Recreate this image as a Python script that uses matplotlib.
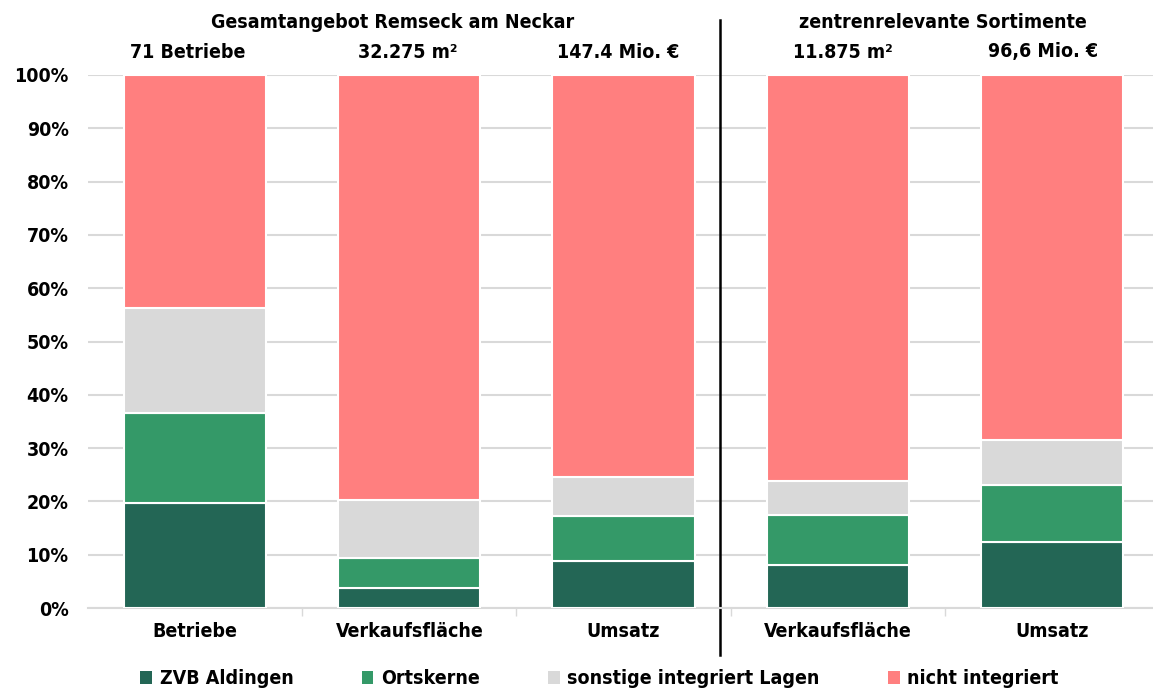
import matplotlib
matplotlib.use("Agg")
import matplotlib.pyplot as plt
import matplotlib.transforms as mtransforms
from matplotlib.patches import Patch
from matplotlib import font_manager

categories = ["Betriebe", "Verkaufsfläche", "Umsatz", "Verkaufsfläche", "Umsatz"]
zvb = [19.7, 3.8, 8.8, 8.1, 12.4]
ortskerne = [16.9, 5.6, 8.5, 9.3, 10.7]
sonstige = [19.7, 10.9, 7.3, 6.4, 8.4]
nicht = [43.7, 79.7, 75.4, 76.2, 68.5]

series_names = ["ZVB Aldingen", "Ortskerne", "sonstige integriert Lagen", "nicht integriert"]
colors = ["#236655", "#349968", "#d9d9d9", "#ff7f7f"]
totals = ["71 Betriebe", "32.275 m²", "147.4 Mio. €", "11.875 m²", "96,6 Mio. €"]
groups = ["Gesamtangebot Remseck am Neckar", "zentrenrelevante Sortimente"]

names = {f.name for f in font_manager.fontManager.ttflist}
if "Liberation Sans Narrow" in names:
    plt.rcParams["font.family"] = ["Liberation Sans Narrow", "DejaVu Sans"]
else:
    plt.rcParams["font.family"] = ["DejaVu Sans"]
    plt.rcParams["font.stretch"] = "condensed"
plt.rcParams["font.weight"] = "bold"

W, H = 1153, 693
fig = plt.figure(figsize=(W / 100, H / 100), dpi=100)
ax = fig.add_axes([88 / W, 1 - 608 / H, 1071 / W, 533 / H])

x = list(range(len(categories)))
bottom = [0.0] * len(categories)
for vals, col in zip([zvb, ortskerne, sonstige, nicht], colors):
    ax.bar(x, vals, bottom=bottom, width=0.663, color=col,
           edgecolor="white", linewidth=1.5, zorder=3)
    bottom = [b + v for b, v in zip(bottom, vals)]

ax.set_xlim(-0.5, 4.5)
ax.set_ylim(0, 100)
ax.set_yticks(range(0, 101, 10))
ax.set_yticklabels([f"{v}%" for v in range(0, 101, 10)], fontsize=14, fontweight="bold")
ax.yaxis.grid(True, color="#d9d9d9", linewidth=1.5, zorder=0)
ax.tick_params(axis="y", length=0, pad=14)
ax.set_xticks(x)
ax.set_xticklabels(categories, fontsize=14, fontweight="bold")
ax.tick_params(axis="x", which="major", length=0, pad=10)
ax.set_xticks([0.5, 1.5, 2.5, 3.5], minor=True)
ax.tick_params(axis="x", which="minor", length=6, width=1, color="#d9d9d9")
for s in ["top", "right", "left"]:
    ax.spines[s].set_visible(False)
ax.spines["bottom"].set_color("#d9d9d9")
ax.spines["bottom"].set_linewidth(1.5)

# separator between the two groups
trans = mtransforms.blended_transform_factory(ax.transData, fig.transFigure)
ax.plot([2.45, 2.45], [1 - 20 / H, 1 - 655 / H], color="black", lw=1.8,
        transform=trans, clip_on=False)

# group headers and totals
ax.text(0.924, 1 - 22 / H, groups[0], transform=trans, ha="center", va="center",
        fontsize=14, fontweight="bold")
ax.text(3.49, 1 - 22 / H, groups[1], transform=trans, ha="center", va="center",
        fontsize=14, fontweight="bold")
for xi, t in zip([-0.033, 0.994, 1.974, 3.024, 3.957], totals):
    ax.text(xi, 1 - 52 / H, t, transform=trans, ha="center", va="center",
            fontsize=14, fontweight="bold")

handles = [Patch(facecolor=c, edgecolor="none") for c in colors]
fig.legend(handles, series_names, loc="center", bbox_to_anchor=(0.52, 1 - 679 / H),
           ncol=4, frameon=False, fontsize=14, handlelength=0.6, handleheight=0.6,
           handletextpad=0.4, columnspacing=3.5)

fig.savefig("out.png", dpi=100)
